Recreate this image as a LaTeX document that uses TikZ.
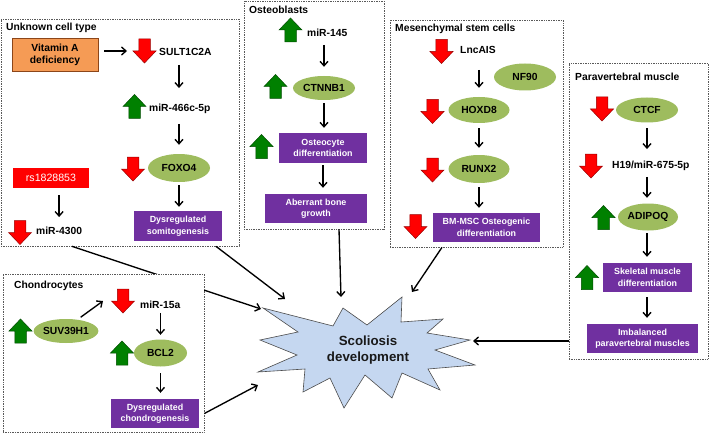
\documentclass[tikz,border=0pt]{standalone}
\usepackage{fontspec}
\setmainfont{Liberation Sans}
\usetikzlibrary{arrows.meta, shapes.geometric}

\definecolor{arrred}{RGB}{255,0,0}
\definecolor{arrgreen}{RGB}{0,128,0}
\definecolor{genegreen}{RGB}{158,188,94}
\definecolor{procpurple}{RGB}{112,48,160}
\definecolor{vitorange}{RGB}{245,155,85}
\definecolor{vitborder}{RGB}{140,70,25}
\definecolor{starblue}{RGB}{197,215,240}

\newcommand{\genefont}{\bfseries\fontsize{10.3}{12}\selectfont}
\newcommand{\procfont}{\bfseries\fontsize{8.9}{11.5}\selectfont}
\newcommand{\starfont}{\bfseries\fontsize{13.3}{16}\selectfont}

\tikzset{
  grpbox/.style={draw=black!65, densely dotted, line width=0.7pt, fill=white, inner sep=0},
  grptitle/.style={anchor=base west, inner sep=0, font=\genefont},
  gene/.style={anchor=west, inner sep=0, text height=7.5pt, text depth=2pt, font=\genefont},
  ellip/.style={ellipse, fill=genegreen, inner sep=0, font=\genefont},
  proc/.style={fill=procpurple, text=white, align=center, inner sep=0, font=\procfont},
  arr/.style={-{Straight Barb[length=4.5pt,width=8pt]}, line width=1.35pt},
  dnarrow/.pic={
    \filldraw[fill=arrred, draw=arrred!60!black, line width=0.5pt]
      (-5.75,-12) -- (5.75,-12) -- (5.75,0) -- (11.5,0) -- (0,12) -- (-11.5,0) -- (-5.75,0) -- cycle;
    \coordinate (-c) at (0,0);},
  uparrow/.pic={
    \filldraw[fill=arrgreen, draw=arrgreen!60!black, line width=0.5pt]
      (-5.75,12) -- (5.75,12) -- (5.75,0) -- (11.5,0) -- (0,-12) -- (-11.5,0) -- (-5.75,0) -- cycle;
    \coordinate (-c) at (0,0);}
}

\begin{document}
\begin{tikzpicture}[x=1pt, y=-1pt]
  \useasboundingbox (0,0) rectangle (709,433);

  % groups
  \node[grpbox, minimum width=238pt, minimum height=227pt] (unknown) at (120,132.5) {};
  \node[grpbox, minimum width=140pt, minimum height=228pt] (osteob) at (314,115) {};
  \node[grpbox, minimum width=173pt, minimum height=227pt] (mesen) at (476.5,133.5) {};
  \node[grpbox, minimum width=139pt, minimum height=296pt] (paraveb) at (638.5,211) {};

  \coordinate (tipA) at (285,299);
  \coordinate (tipB) at (261,309);
  \coordinate (tipC) at (341,297);
  \coordinate (tipD) at (412,292);
  \coordinate (tipE) at (473,341);
  \coordinate (tipF) at (258,385);

  \draw[arr] ([xshift=-48pt]unknown.south) -- (tipB);
  \node[grpbox, minimum width=201pt, minimum height=158pt] (chondr) at (103.5,353) {};

  \node[grptitle] (unktitle) at (6,30.5) {Unknown cell type};
  \node[grptitle] (osttitle) at (249,14) {Osteoblasts};
  \node[grptitle] (mestitle) at (395,32) {Mesenchymal stem cells};
  \node[grptitle] (partitle) at (575,80.5) {Paravertebral muscle};
  \node[grptitle] (chotitle) at (14,288.5) {Chondrocytes};

  % unknown cell type
  \node[draw=vitborder, fill=vitorange, line width=0.8pt, minimum width=86pt, minimum height=33pt,
        align=center, inner sep=0, font=\genefont] (vita) at (55,54.5) {Vitamin A\\deficiency};
  \pic (sultdn) at (144.5,51) {dnarrow};
  \node[gene] (sult) at (159,53) {SULT1C2A};
  \pic (mirup) at (134.5,106.5) {uparrow};
  \node[gene] (mir466) at (149,109) {miR-466c-5p};
  \pic (foxodn) at (133,169) {dnarrow};
  \node[ellip, minimum width=62pt, minimum height=28pt] (foxo) at (179,168) {FOXO4};
  \node[proc, minimum width=88pt, minimum height=30pt] (somito) at (178,226) {Dysregulated\\somitogenesis};
  \node[fill=arrred, text=white, minimum width=76pt, minimum height=20pt, inner sep=0,
        font=\mdseries\fontsize{10.6}{12}\selectfont] (rs) at (51,178) {rs1828853};
  \pic (mir43dn) at (20,232.5) {dnarrow};
  \node[gene] (mir4300) at (36,232) {miR-4300};

  \draw[arr, shorten <=6pt, shorten >=17.5pt] (vita.east |- sultdn-c) -- (sultdn-c);
  \draw[arr, shorten <=7pt, shorten >=16pt] (sult.south -| foxo) -- (mir466.north -| foxo);
  \draw[arr, shorten <=10pt, shorten >=9pt] (mir466.south -| foxo) -- (foxo.north);
  \draw[arr, shorten <=3pt, shorten >=4pt] (foxo.south) -- (foxo.south |- somito.north);
  \draw[arr, shorten <=7pt, shorten >=10pt] (rs.south -| mir4300.north) -- (mir4300.north);

  % osteoblasts
  \pic (m145up) at (290.5,30) {uparrow};
  \node[gene] (mir145) at (307,34) {miR-145};
  \pic (ctnup) at (275.5,86.5) {uparrow};
  \node[ellip, minimum width=62pt, minimum height=24pt] (ctnnb) at (324,88) {CTNNB1};
  \pic (ostup) at (261.5,146.5) {uparrow};
  \node[proc, minimum width=88pt, minimum height=30pt] (osteo) at (323,148) {Osteocyte\\differentiation};
  \node[proc, minimum width=102pt, minimum height=29pt] (aberr) at (316,208.5) {Aberrant bone\\growth};

  \draw[arr, shorten <=6pt, shorten >=9pt] (mir145.south -| ctnnb) -- (ctnnb.north);
  \draw[arr, shorten <=3pt, shorten >=5pt] (ctnnb.south) -- (ctnnb.south |- osteo.north);
  \draw[arr, shorten <=2pt, shorten >=6pt] (osteo.south) -- (osteo.south |- aberr.north);

  % mesenchymal stem cells
  \pic (lncdn) at (441.5,51.5) {dnarrow};
  \node[gene] (lncais) at (460,51) {LncAIS};
  \node[ellip, minimum width=62pt, minimum height=27pt] (nf90) at (525,77) {NF90};
  \pic (hoxdn) at (432.5,111.5) {dnarrow};
  \node[ellip, minimum width=61pt, minimum height=26pt] (hoxd) at (479,110) {HOXD8};
  \pic (runxdn) at (432.5,170) {dnarrow};
  \node[ellip, minimum width=61pt, minimum height=28pt] (runx) at (479,169) {RUNX2};
  \pic (bmdn) at (415.5,226.5) {dnarrow};
  \node[proc, minimum width=107pt, minimum height=29pt] (bmmsc) at (486.5,227.5) {BM-MSC Osteogenic\\differentiation};

  \draw[arr, shorten <=14pt, shorten >=9pt] (lncais.south -| hoxd) -- (hoxd.north);
  \draw[arr, shorten <=5pt, shorten >=7pt] (hoxd.south) -- (runx.north);
  \draw[arr, shorten <=4pt, shorten >=5pt] (runx.south) -- (runx.south |- bmmsc.north);

  % paravertebral muscle
  \pic (ctcfdn) at (602,109) {dnarrow};
  \node[ellip, minimum width=62pt, minimum height=25pt] (ctcf) at (647,110) {CTCF};
  \pic (h19dn) at (591,166) {dnarrow};
  \node[gene] (h19) at (612,166) {H19/miR-675-5p};
  \pic (adipup) at (603.5,217.5) {uparrow};
  \node[ellip, minimum width=60pt, minimum height=27pt] (adipoq) at (648,217) {ADIPOQ};
  \pic (skelup) at (587,277.5) {uparrow};
  \node[proc, minimum width=89pt, minimum height=29pt] (skel) at (647.5,277.5) {Skeletal muscle\\differentiation};
  \node[proc, minimum width=111pt, minimum height=29pt] (imbal) at (642.5,338.5) {Imbalanced\\paravertebral muscles};

  \draw[arr, shorten <=5.5pt, shorten >=12pt] (ctcf.south) -- (ctcf.south |- h19.north);
  \draw[arr, shorten <=6pt, shorten >=5.5pt] (h19.south -| ctcf) -- (adipoq.north -| ctcf);
  \draw[arr, shorten <=2.5pt, shorten >=6pt] (adipoq.south -| ctcf) -- (skel.north -| ctcf);
  \draw[arr, shorten <=5pt, shorten >=6pt] (skel.south -| ctcf) -- (imbal.north -| ctcf);

  % chondrocytes
  \pic (m15dn) at (123,301) {dnarrow};
  \node[gene] (mir15) at (140,306) {miR-15a};
  \pic (suvup) at (20.5,331) {uparrow};
  \node[ellip, minimum width=61pt, minimum height=24pt] (suv) at (66,331) {SUV39H1};
  \pic (bclup) at (122,353) {uparrow};
  \node[ellip, minimum width=53pt, minimum height=27pt] (bcl) at (160.5,353) {BCL2};
  \node[proc, minimum width=88pt, minimum height=29pt] (chondrog) at (155,413.5) {Dysregulated\\chondrogenesis};

  \coordinate (m15in) at (103,301);
  \draw[arr, shorten <=4pt] (suv.45) -- (m15in);
  \draw[arr, shorten <=2pt, shorten >=4.5pt] (mir15.south -| bcl) -- (bcl.north);
  \draw[arr, shorten <=6.5pt, shorten >=6pt] (bcl.south) -- (bcl.south |- chondrog.north);

  % scoliosis
  \filldraw[fill=starblue, draw=black!70, line width=0.6pt]
    (263,308) -- (333,326) -- (343,308) -- (367,325) -- (402,297) -- (401,322) -- (443,319)
    -- (427,333) -- (470,340) -- (435,350) -- (475,365) -- (428,369) -- (440,390) -- (402,373)
    -- (392,398) -- (365,375) -- (344,408) -- (330,378) -- (303,392) -- (305,369) -- (258,372)
    -- (297,355) -- (260,340) -- (298,332) -- cycle;
  \node[font=\starfont, align=center, text=black!90, inner sep=0] (scol) at (368,350) {Scoliosis\\development};

  \draw[arr] ([xshift=96pt]unknown.south) -- (tipA);
  \draw[arr] ([xshift=25pt]osteob.south) -- (tipC);
  \draw[arr] ([xshift=-34.5pt]mesen.south) -- (tipD);
  \draw[arr] (paraveb.west |- tipE) -- (tipE);
  \draw[arr] (chondr.east |- chondrog) -- (tipF);
\end{tikzpicture}
\end{document}
